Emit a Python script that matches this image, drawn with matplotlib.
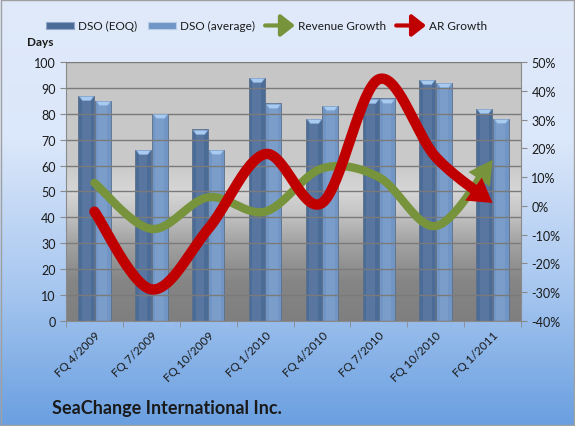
import matplotlib
matplotlib.use('Agg')
import matplotlib.pyplot as plt
import numpy as np
from matplotlib.colors import LinearSegmentedColormap
from matplotlib.patches import Rectangle, FancyArrowPatch

plt.rcParams['font.family'] = ['Lato', 'DejaVu Sans']

# Datos
quarters = ['FQ 4/2009', 'FQ 7/2009', 'FQ 10/2009', 'FQ 1/2010',
            'FQ 4/2010', 'FQ 7/2010', 'FQ 10/2010', 'FQ 1/2011']
dso_eoq = [87, 66, 74, 94, 78, 86, 93, 82]
dso_avg = [85, 80, 66, 84, 83, 86, 92, 78]
revenue_growth = [8, -8, 3, -2, 13, 10, -7, 16]
ar_growth = [-2, -29, -8, 18, 1, 44, 17, 1]

eoq_color = '#4c6c98'
avg_color = '#7196c5'
green = '#77933c'
red = '#c00000'


def smooth(xs, ys, n=40):
    """Curva suavizada tipo Excel (Bezier con tangentes Catmull-Rom)."""
    p = np.column_stack([xs, ys]).astype(float)
    p_ext = np.vstack([p[0], p, p[-1]])
    out = []
    for i in range(len(p) - 1):
        p0, p1, p2, p3 = p_ext[i], p_ext[i + 1], p_ext[i + 2], p_ext[i + 3]
        b1 = p1 + (p2 - p0) / 6
        b2 = p2 - (p3 - p1) / 6
        t = np.linspace(0, 1, n)[:, None]
        seg = ((1 - t) ** 3) * p1 + 3 * ((1 - t) ** 2) * t * b1 + 3 * (1 - t) * t ** 2 * b2 + t ** 3 * p2
        out.append(seg if i == 0 else seg[1:])
    return np.vstack(out)


fig = plt.figure(figsize=(5.75, 4.27), dpi=100)

# Fondo degradado azul de la figura
bg = fig.add_axes([0, 0, 1, 1], zorder=-10)
bg_cmap = LinearSegmentedColormap.from_list('bg', ['#6a9fe0', '#a9c8f0', '#dbe7fa', '#e0eafb'])
bg.imshow(np.linspace(0, 1, 256)[:, None], aspect='auto', cmap=bg_cmap, origin='lower',
          extent=[0, 1, 0, 1])
bg.add_patch(Rectangle((0.001, 0.002), 0.997, 0.995, fill=False, ec='#a0a0a0', lw=1))
bg.set_xlim(0, 1)
bg.set_ylim(0, 1)
bg.axis('off')

ax = fig.add_axes([0.1148, 0.2459, 0.7913, 0.6066])
ax2 = ax.twinx()
ax.set_zorder(1)
ax2.set_zorder(2)
ax.patch.set_visible(False)
ax2.patch.set_visible(False)

n = len(quarters)
x = np.arange(n)

# Degradado gris del área de trazado
plot_cmap = LinearSegmentedColormap.from_list('plot', [
    (0.0, '#7f7f7f'), (0.15, '#858585'), (0.3, '#a2a2a2'), (0.42, '#c6c6c6'),
    (0.5, '#d6d6d6'), (0.6, '#cacaca'), (1.0, '#c6c6c6')])
ax.imshow(np.linspace(0, 1, 256)[:, None], aspect='auto', cmap=plot_cmap, origin='lower',
          extent=[-0.5, n - 0.5, 0, 100], zorder=0)

ax.set_xlim(-0.5, n - 0.5)
ax.set_ylim(0, 100)
ax.set_yticks(range(0, 101, 10))
ax.grid(axis='y', color='#7a7a7a', lw=1, zorder=1)
ax.set_axisbelow(False)

# Barras con tapa clara
cap = [(-1, 0.3), (1, 0.3), (0.55, -0.3), (-0.55, -0.3), (-1, 0.3)]
w = 0.28
for vals, off, col in [(dso_eoq, -0.145, eoq_color), (dso_avg, 0.145, avg_color)]:
    ax.bar(x + off, vals, width=w, color=col, edgecolor='#5b6f8a', lw=0.6, zorder=2)
    ax.bar(x + off, vals, width=w * 0.55, color='white', alpha=0.07, lw=0, zorder=2)
    ax.scatter(x + off, np.array(vals) - 0.9, marker=cap, s=110, color='#a9cbf0',
               edgecolor='#7fa4d2', lw=0.4, zorder=3)

ax.set_xticks(np.arange(-0.5, n, 1), minor=True)
ax.set_xticks(x)
ax.set_xticklabels(quarters, rotation=45, ha='right', va='top', rotation_mode='anchor',
                   fontsize=8.5, color='#1a1a1a')
ax.tick_params(axis='x', which='major', length=0, pad=6)
ax.tick_params(axis='x', which='minor', length=4, color='#8a8a8a', direction='out')
ax.tick_params(axis='y', length=4, colors='#8a8a8a', labelcolor='#1a1a1a', labelsize=9)

for s in ['top', 'right']:
    ax.spines[s].set_visible(False)
for s in ['left', 'bottom']:
    ax.spines[s].set_color('#8a8a8a')

# Eje secundario (porcentaje)
ax2.set_ylim(-40, 50)
ax2.set_yticks(range(-40, 51, 10))
ax2.set_yticklabels([f'{v}%' for v in range(-40, 51, 10)])
ax2.tick_params(axis='y', length=4, colors='#8a8a8a', labelcolor='#1a1a1a', labelsize=9)
for s in ['top', 'left', 'bottom']:
    ax2.spines[s].set_visible(False)
ax2.spines['right'].set_color('#8a8a8a')

# Líneas suavizadas con flecha
for vals, col, lw, hw in [(revenue_growth, green, 6.0, 0.55), (ar_growth, red, 7.5, 0.6)]:
    curve = smooth(x, vals)
    ax2.plot(curve[:-12, 0], curve[:-12, 1], color=col, lw=lw, solid_capstyle='round', zorder=4)
    arr = FancyArrowPatch(curve[-16], curve[-1], arrowstyle=f'-|>,head_length=1.0,head_width={hw}',
                          mutation_scale=17, color=col, lw=0, shrinkA=0, shrinkB=0, zorder=5)
    ax2.add_patch(arr)

# Textos
fig.text(0.047, 0.892, 'Days', fontsize=8.5, fontweight='bold', color='#1a1a1a')
fig.text(0.09, 0.03, 'SeaChange International Inc.', fontsize=13, fontweight='bold', color='#1a1a1a')

# Leyenda manual
ly = 0.938
fig.patches.append(Rectangle((0.080, ly - 0.008), 0.049, 0.016, transform=fig.transFigure,
                             fc=eoq_color, ec='#8fa6c6', lw=0.8))
fig.text(0.136, ly, 'DSO (EOQ)', fontsize=8.5, va='center', color='#1a1a1a')
fig.patches.append(Rectangle((0.257, ly - 0.008), 0.049, 0.016, transform=fig.transFigure,
                             fc=avg_color, ec='#b7cde8', lw=0.8))
fig.text(0.313, ly, 'DSO (average)', fontsize=8.5, va='center', color='#1a1a1a')
for x0, col, label in [(0.461, green, 'Revenue Growth'), (0.689, red, 'AR Growth')]:
    fig.patches.append(FancyArrowPatch((x0, ly), (x0 + 0.052, ly), transform=fig.transFigure,
                                       arrowstyle='-|>,head_length=0.7,head_width=0.55',
                                       mutation_scale=12, color=col, lw=3, shrinkA=0, shrinkB=0))
    fig.text(x0 + 0.057, ly, label, fontsize=8.5, va='center', color='#1a1a1a')

fig.savefig('out.png', dpi=100)
